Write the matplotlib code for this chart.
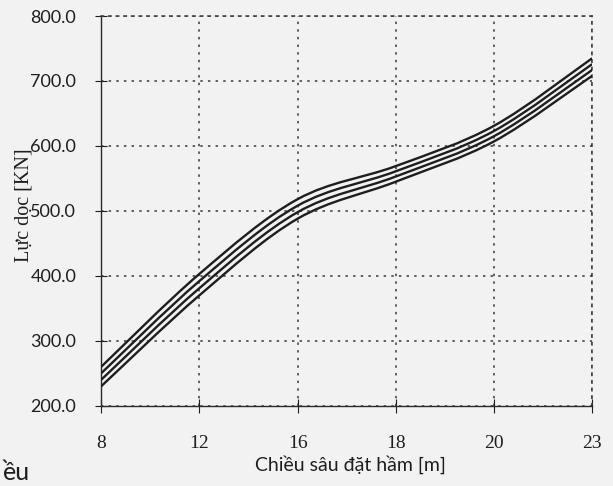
import numpy as np
import matplotlib
matplotlib.use("Agg")
import matplotlib.pyplot as plt
from matplotlib.path import Path
from matplotlib.patches import PathPatch

# ---- data ----
depth_labels = ["8", "12", "16", "18", "20", "23"]
series_1 = [230, 370, 488, 545, 607, 708]
series_2 = [240, 381, 498, 553, 615, 717]
series_3 = [250, 392, 508, 561, 623, 726]
series_4 = [260, 403, 518, 569, 631, 735]
y_ticks = [200, 300, 400, 500, 600, 700, 800]

SERIF = ['Liberation Serif', 'DejaVu Serif']
SANS = ['Lato', 'DejaVu Sans']
plt.rcParams['font.family'] = SERIF

ink = '#1e1e1e'
bg = '#f2f2f2'
fig = plt.figure(figsize=(6.13, 4.86), dpi=100, facecolor=bg)
ax = fig.add_axes([0.165, 0.165, 0.801, 0.802])
ax.set_facecolor(bg)

xs = np.arange(len(depth_labels), dtype=float)


def smooth_path(x, y, tension=1/6):
    # Bezier smoothing through the data points (spreadsheet "smoothed line")
    verts = [(x[0], y[0])]
    codes = [Path.MOVETO]
    n = len(x)
    for i in range(n - 1):
        x0, y0 = (x[i - 1], y[i - 1]) if i > 0 else (x[i], y[i])
        x1, y1 = x[i], y[i]
        x2, y2 = x[i + 1], y[i + 1]
        x3, y3 = (x[i + 2], y[i + 2]) if i + 2 < n else (x2, y2)
        c1 = (x1 + (x2 - x0) * tension, y1 + (y2 - y0) * tension)
        c2 = (x2 - (x3 - x1) * tension, y2 - (y3 - y1) * tension)
        verts += [c1, c2, (x2, y2)]
        codes += [Path.CURVE4] * 3
    return Path(verts, codes)


for s in (series_1, series_2, series_3, series_4):
    p = smooth_path(xs, np.array(s, dtype=float))
    ax.add_patch(PathPatch(p, facecolor='none', edgecolor=ink, lw=1.7,
                           zorder=3))

ax.set_xlim(xs[0], xs[-1])
ax.set_ylim(200, 800)
ax.set_xticks(xs)
ax.set_xticklabels(depth_labels, family=SERIF, fontsize=14)
ax.set_yticks(y_ticks)
ax.set_yticklabels([f"{v:.1f}" for v in y_ticks], family=SANS, fontsize=13)

ax.grid(True, color='#3a3a3a', linestyle=(0, (1.6, 3.4)), lw=1.1)
for side in ('top', 'right'):
    ax.spines[side].set_linestyle((0, (1.6, 3.4)))
    ax.spines[side].set_color('#3a3a3a')
    ax.spines[side].set_linewidth(1.1)
for side in ('left', 'bottom'):
    ax.spines[side].set_color('#2a2a2a')
    ax.spines[side].set_linewidth(1.0)

ax.tick_params(axis='y', direction='inout', length=9, pad=13.5, colors=ink)
ax.tick_params(axis='x', direction='inout', length=10, pad=16, colors=ink)

ax.set_ylabel("Lực dọc [KN]", fontsize=14.5, color=ink, family=SERIF,
              va='center')
ax.yaxis.set_label_coords(-0.157, 0.515)
ax.set_xlabel("Chiều sâu đặt hầm [m]", fontsize=14, color=ink,
              family=SANS, va='top')
ax.xaxis.set_label_coords(0.507, -0.128)

fig.text(0.005, 0.012, "ều", fontsize=18, color=ink, ha='left',
         va='baseline', family=SANS)

fig.savefig("out.png", dpi=100, facecolor=bg)
